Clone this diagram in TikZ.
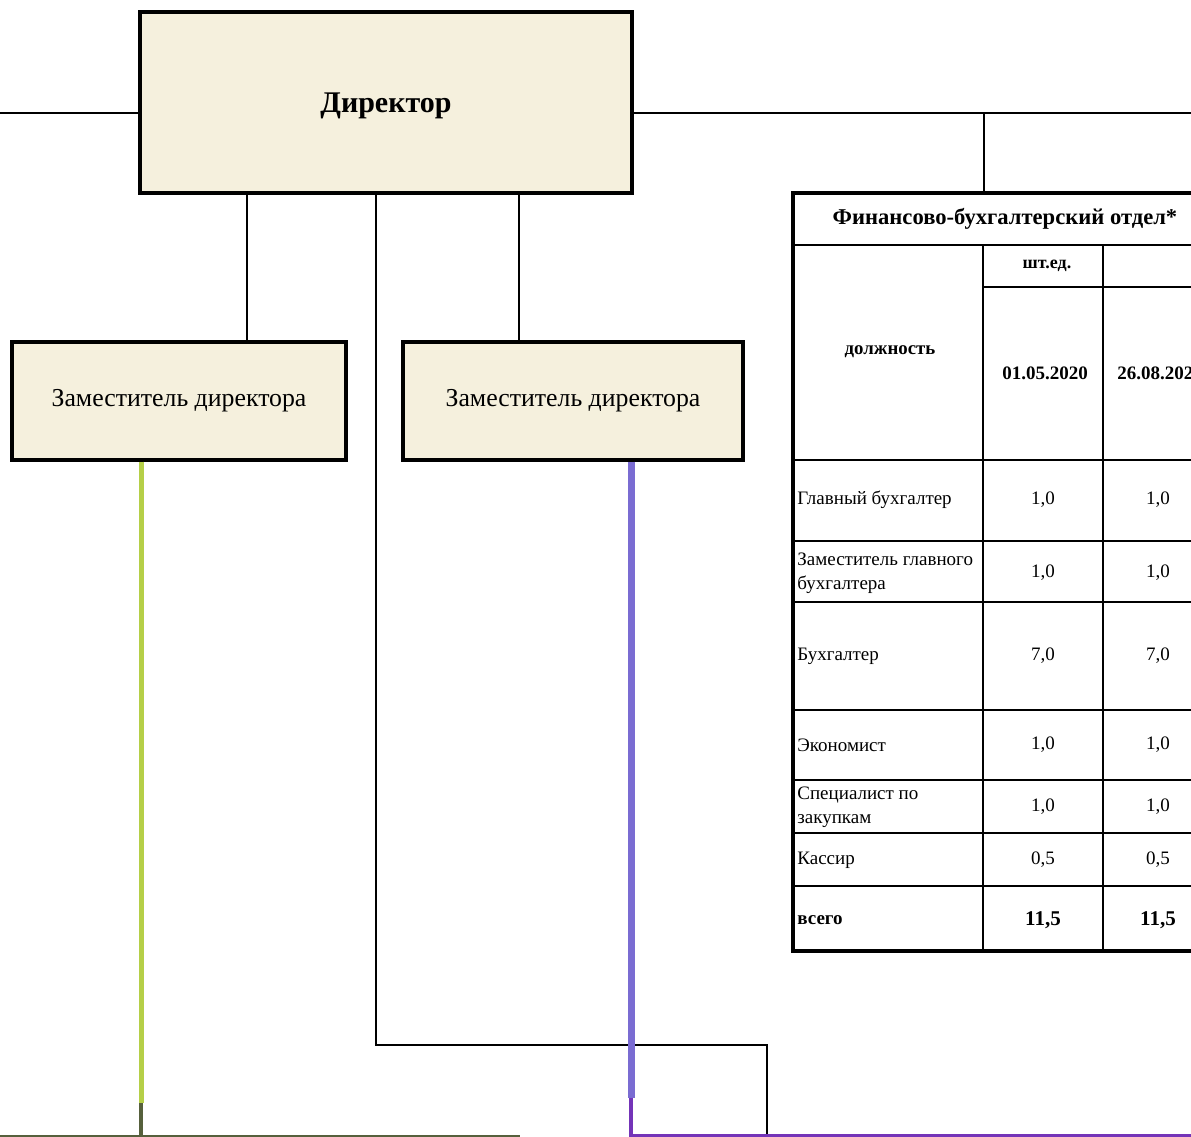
\documentclass[tikz,border=0pt]{standalone}
\usepackage{fontspec}
\setmainfont{Liberation Serif}
\usepackage{tikz}

\definecolor{boxfill}{HTML}{F5F0DD}
\definecolor{lineg}{HTML}{B5CF48}
\definecolor{lineo}{HTML}{56603C}
\definecolor{linep}{HTML}{7A6CD2}
\definecolor{linedp}{HTML}{7434B8}

\tikzset{
  postbox/.style={draw=black, fill=boxfill, line width=1.6pt, rectangle, inner sep=0pt},
  tablebox/.style={draw=black, fill=white, line width=1.6pt, rectangle, inner sep=0pt},
  link/.style={draw=black, line width=1.2pt, solid},
  grid/.style={draw=black, line width=1.1pt},
  cell/.style={inner sep=0pt, align=left, font=\fontsize{9.5}{12}\selectfont},
  num/.style={inner sep=0pt, font=\fontsize{9.5}{12}\selectfont},
  head/.style={inner sep=0pt, font=\fontsize{9}{10}\selectfont\bfseries}
}

\begin{document}
\begin{tikzpicture}[x=0.5pt, y=-0.5pt]
\useasboundingbox (0,0) rectangle (1191,1137);
\clip (0,0) rectangle (1191,1137);

% boxes
\node[postbox, minimum width=246pt, minimum height=90.5pt, font=\fontsize{15}{18}\selectfont\bfseries, text depth=0pt] (dir) at (386,102.5) {Директор};
\node[postbox, minimum width=167pt, minimum height=59pt, font=\fontsize{12.9}{15}\selectfont] (dep1) at (179,401) {Заместитель директора};
\node[postbox, minimum width=170pt, minimum height=59pt, font=\fontsize{12.9}{15}\selectfont] (dep2) at (573,401) {Заместитель директора};
\node[tablebox, minimum width=212pt, minimum height=379pt] (fin) at (1005,572) {};

% table grid
\draw[grid] (793,245) -- (1217,245);
\draw[grid] (983,287) -- (1217,287);
\draw[grid] (983,245) -- (983,951);
\draw[grid] (1103,245) -- (1103,951);
\foreach \ry in {460,541,602,710,780,833,886}
  \draw[grid] (793,\ry) -- (1217,\ry);

% table text
\node[inner sep=0pt, font=\fontsize{11.3}{13}\selectfont\bfseries] (title) at (1005,219) {Финансово-бухгалтерский отдел*};
\node[head] (unit) at (1047,266) {шт.ед.};
\node[head, font=\fontsize{9.4}{11}\selectfont\bfseries] (post) at (890,352) {должность};
\node[num, font=\fontsize{9.5}{12}\selectfont\bfseries] (d1) at (1045,373) {01.05.2020};
\node[num, font=\fontsize{9.5}{12}\selectfont\bfseries] (d2) at (1160,373) {26.08.2020};

\node[cell, anchor=west] (r1) at (797,500) {Главный бухгалтер};
\node[cell, anchor=west] (r2) at (797,573) {Заместитель главного\\бухгалтера};
\node[cell, anchor=west] (r3) at (797,656) {Бухгалтер};
\node[cell, anchor=west] (r4) at (797,745) {Экономист};
\node[cell, anchor=west] (r5) at (797,807) {Специалист по\\закупкам};
\node[cell, anchor=west] (r6) at (797,860) {Кассир};
\node[cell, anchor=west, font=\fontsize{9.5}{11}\selectfont\bfseries] (r7) at (797,920) {всего};

\node[num] (a1) at (1043,500) {1,0};
\node[num] (b1) at (1158,500) {1,0};
\node[num] (a2) at (1043,573) {1,0};
\node[num] (b2) at (1158,573) {1,0};
\node[num] (a3) at (1043,656) {7,0};
\node[num] (b3) at (1158,656) {7,0};
\node[num] (a4) at (1043,745) {1,0};
\node[num] (b4) at (1158,745) {1,0};
\node[num] (a5) at (1043,807) {1,0};
\node[num] (b5) at (1158,807) {1,0};
\node[num] (a6) at (1043,860) {0,5};
\node[num] (b6) at (1158,860) {0,5};
\node[num, font=\fontsize{10.5}{12}\selectfont\bfseries] (a7) at (1043,920) {11,5};
\node[num, font=\fontsize{10.5}{12}\selectfont\bfseries] (b7) at (1158,920) {11,5};

% connectors
\coordinate (lend) at (0,113);
\coordinate (rend) at (1191,113);
\coordinate (tap) at (984,113);
\coordinate (mid1) at (376,1045);
\coordinate (mid2) at (767,1045);
\coordinate (mid3) at (767,1136);
\draw[link] (lend) -- (lend -| dir.west);
\draw[link] (dir.east |- rend) -- (rend);
\draw[link] (tap) -- (tap |- fin.north);
\draw[link] (dir.south -| 247,0) -- (dep1.north -| 247,0);
\draw[link] (dir.south -| 519,0) -- (dep2.north -| 519,0);
\draw[link] (dir.south -| mid1) -- (mid1) -- (mid2) -- (mid3);

% green branch
\coordinate (gknee) at (141,1103);
\coordinate (gfoot) at (141,1136);
\coordinate (gleft) at (0,1136);
\coordinate (gright) at (520,1136);
\draw[draw=black!70, line width=1pt] (dep1.south -| 143,0) -- (143,1103);
\draw[draw=lineg, line width=2.5pt] (dep1.south -| gknee) -- (gknee);
\draw[draw=lineo, line width=1.8pt] (gknee) -- (gfoot);
\draw[draw=lineo, line width=1.5pt] (gleft) -- (gright);

% purple branch
\coordinate (pknee) at (631,1098);
\coordinate (pfoot) at (631,1136);
\coordinate (pright) at (1191,1136);
\draw[draw=linep, line width=3.5pt] (dep2.south -| pknee) -- (pknee);
\draw[draw=linedp, line width=2pt] (pknee) -- (pfoot) -- (pright);
\end{tikzpicture}
\end{document}
